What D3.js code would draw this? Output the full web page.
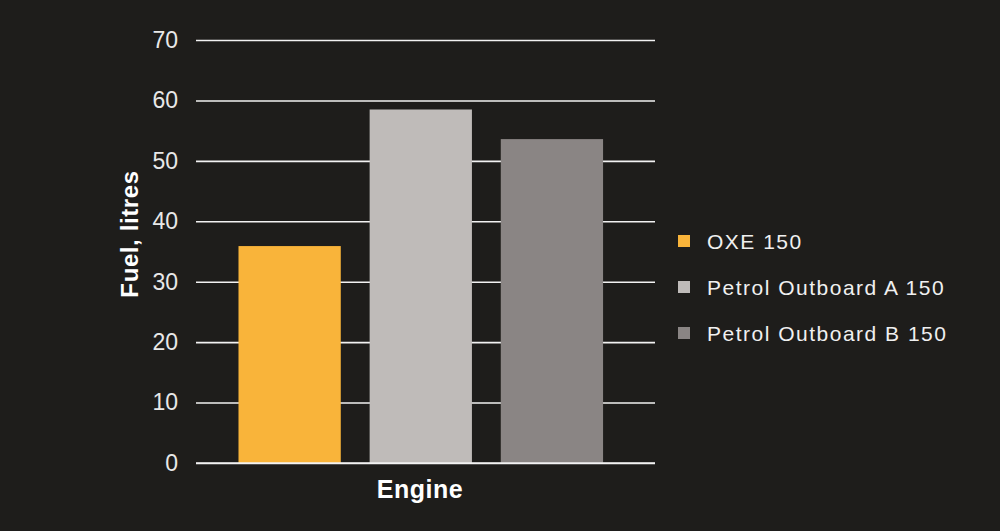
<!DOCTYPE html>
<html>
<head>
<meta charset="utf-8">
<script src="https://cdn.jsdelivr.net/npm/d3@7"></script>
<style>
  html, body { margin: 0; padding: 0; background: #1e1d1b; }
  svg { display: block; font-family: "Liberation Sans", "DejaVu Sans Condensed", sans-serif; }
</style>
</head>
<body>
<svg id="canvas"></svg>
<script>
// chart data
const seriesNames = ['OXE 150', 'Petrol Outboard A 150', 'Petrol Outboard B 150'];
const fuelValues = [35.9, 58.5, 53.6];
const seriesColors = ['#f9b43a', '#bfbbb9', '#8a8584'];
const yTicks = [0, 10, 20, 30, 40, 50, 60, 70];

const width = 1000;
const height = 531;
const plotLeft = 196, plotRight = 655, plotTop = 40, plotBottom = 463;

let canvas = d3.select('#canvas')
  .attr('width', width)
  .attr('height', height);

canvas.append('rect')
  .attr('width', width)
  .attr('height', height)
  .attr('fill', '#1e1d1b');

let xScale = d3.scaleBand()
  .domain(seriesNames)
  .range([plotLeft, plotRight])
  .paddingInner(0.22)
  .paddingOuter(0.36)
  .align(0.45);

let yScale = d3.scaleLinear()
  .domain([0, 70])
  .range([plotBottom, plotTop]);

// gridlines + tick labels
let yAxis = d3.axisLeft(yScale)
  .tickValues(yTicks)
  .tickSize(-(plotRight - plotLeft))
  .tickPadding(18);

let gy = canvas.append('g')
  .attr('transform', `translate(${plotLeft}, 0)`)
  .call(yAxis);
gy.select('.domain').remove();
gy.selectAll('.tick line')
  .attr('stroke', '#f2f2f2')
  .attr('stroke-width', 1.6);
gy.selectAll('.tick text')
  .attr('fill', '#e8e8e8')
  .attr('font-size', 23)
  .attr('font-family', '"Liberation Sans", sans-serif');

// bars
canvas.selectAll('rect.bar')
  .data(seriesNames)
  .enter()
  .append('rect')
  .attr('class', 'bar')
  .attr('x', d => xScale(d))
  .attr('width', xScale.bandwidth())
  .attr('y', (d, i) => yScale(fuelValues[i]))
  .attr('height', (d, i) => yScale(0) - yScale(fuelValues[i]))
  .attr('fill', (d, i) => seriesColors[i]);

// baseline on top
canvas.append('line')
  .attr('x1', plotLeft).attr('x2', plotRight)
  .attr('y1', yScale(0)).attr('y2', yScale(0))
  .attr('stroke', '#f2f2f2')
  .attr('stroke-width', 1.6);

// axis titles
canvas.append('text')
  .attr('transform', `translate(138, 234) rotate(-90)`)
  .attr('text-anchor', 'middle')
  .attr('fill', '#ffffff')
  .attr('font-size', 24)
  .attr('font-weight', 'bold')
  .attr('letter-spacing', 0.6)
  .text('Fuel, litres');

canvas.append('text')
  .attr('x', 420)
  .attr('y', 498)
  .attr('text-anchor', 'middle')
  .attr('fill', '#ffffff')
  .attr('font-size', 25)
  .attr('font-weight', 'bold')
  .attr('letter-spacing', 0.5)
  .text('Engine');

// legend
let legend = canvas.selectAll('g.legend')
  .data(seriesNames)
  .enter()
  .append('g')
  .attr('class', 'legend')
  .attr('transform', (d, i) => `translate(678, ${241 + i * 46})`);

legend.append('rect')
  .attr('x', 0).attr('y', -6)
  .attr('width', 12).attr('height', 12)
  .attr('fill', (d, i) => seriesColors[i]);

legend.append('text')
  .attr('x', 29)
  .attr('y', 7.5)
  .attr('fill', '#f0f0f0')
  .attr('font-size', 21)
  .attr('letter-spacing', 1.5)
  .text(d => d);
</script>
</body>
</html>
